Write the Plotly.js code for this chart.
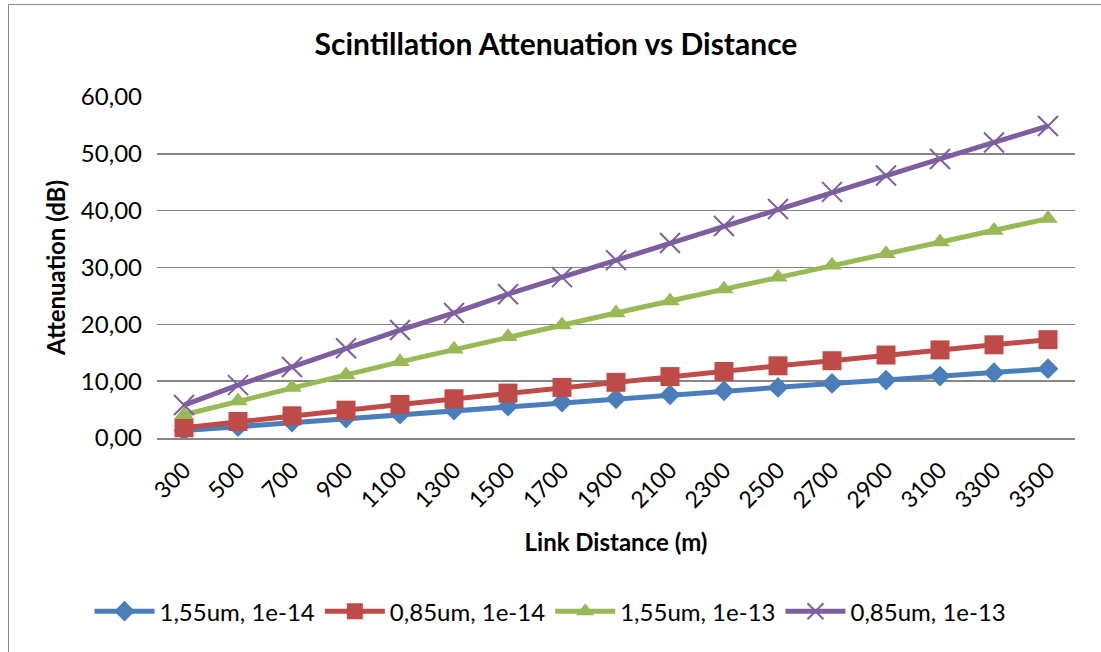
<!DOCTYPE html>
<html>
<head>
<meta charset="utf-8">
<script src="https://cdn.plot.ly/plotly-3.0.1.min.js"></script>
<style>
html,body{margin:0;padding:0;background:#fff;overflow:hidden;}
#frame{position:absolute;left:8px;top:4px;width:1110px;height:670px;border:1.5px solid #8c8c8c;box-sizing:border-box;}
#chart{position:absolute;left:0;top:0;width:1101px;height:652px;}
</style>
</head>
<body>
<div id="frame"></div>
<div id="chart"></div>
<script>
const distances = ["300","500","700","900","1100","1300","1500","1700","1900","2100","2300","2500","2700","2900","3100","3300","3500"];
const s155_1e14 = [1.3,2.0,2.8,3.5,4.2,4.9,5.6,6.3,6.9,7.6,8.3,8.9,9.6,10.2,10.9,11.5,12.2];
const s085_1e14 = [1.8,2.9,3.9,4.9,5.9,6.9,7.9,8.9,9.8,10.8,11.7,12.7,13.6,14.6,15.5,16.4,17.3];
const s155_1e13 = [4.1,6.5,8.9,11.1,13.4,15.6,17.8,19.9,22.0,24.1,26.2,28.3,30.4,32.4,34.5,36.5,38.6];
const s085_1e13 = [5.8,9.3,12.5,15.8,19.0,22.0,25.3,28.3,31.3,34.3,37.3,40.3,43.3,46.2,49.1,52.0,54.9];
const names = ["1,55um, 1e-14","0,85um, 1e-14","1,55um, 1e-13","0,85um, 1e-13"];

const FONT = "Lato, 'Open Sans', sans-serif";
function tr(y, name, color, symbol, msize, open){
  return {
    x: distances, y: y, name: name, type: 'scatter', mode: 'lines+markers',
    line: {color: color, width: 5},
    marker: open
      ? {symbol: symbol, size: msize, color: color, line: {color: color, width: 2}}
      : {symbol: symbol, size: msize, color: color, line: {width: 0}}
  };
}
const data = [
  tr(s155_1e14, names[0], '#4a7ebb', 'diamond', 16, false),
  tr(s085_1e14, names[1], '#be4b48', 'square', 19, false),
  tr(s155_1e13, names[2], '#98b954', 'triangle-up', 17, false),
  tr(s085_1e13, names[3], '#7d5fa0', 'x-thin-open', 20, true)
];
const layout = {
  width: 1101, height: 652,
  paper_bgcolor: 'rgba(0,0,0,0)', plot_bgcolor: 'rgba(0,0,0,0)',
  separators: ',.',
  font: {family: FONT, color: '#000', size: 24},
  margin: {l: 157, r: 26, t: 97, b: 214},
  title: {text: '<b>Scintillation Attenuation vs Distance</b>', font: {family: FONT, size: 30, color: '#000'},
          x: 0.505, xref: 'container', xanchor: 'center', y: 0.932, yref: 'container', yanchor: 'middle'},
  xaxis: {
    type: 'category', range: [-0.5, 16.5], tickangle: -45, showgrid: false, zeroline: false,
    showline: true, linecolor: '#868686', linewidth: 1.5, ticks: '',
    tickfont: {family: FONT, size: 23}, ticklabelstandoff: 8,
    title: {text: '<b>Link Distance (m)</b>', font: {family: FONT, size: 24}, standoff: 22}
  },
  yaxis: {
    range: [0, 60], dtick: 10, tickformat: '.2f', showgrid: true, gridcolor: '#868686', gridwidth: 1.5,
    zeroline: false, showline: false, ticks: '', ticklabelstandoff: 14,
    tickfont: {family: FONT, size: 24},
    title: {text: '<b>Attenuation (dB)</b>', font: {family: FONT, size: 24}, standoff: 8}
  },
  legend: {orientation: 'h', x: 0.5, xref: 'container', xanchor: 'center', y: 0.062, yref: 'container', yanchor: 'middle',
           font: {family: FONT, size: 24}, itemwidth: 60},
  showlegend: true
};
Plotly.newPlot('chart', data, layout, {displayModeBar: false, staticPlot: true});
</script>
</body>
</html>
